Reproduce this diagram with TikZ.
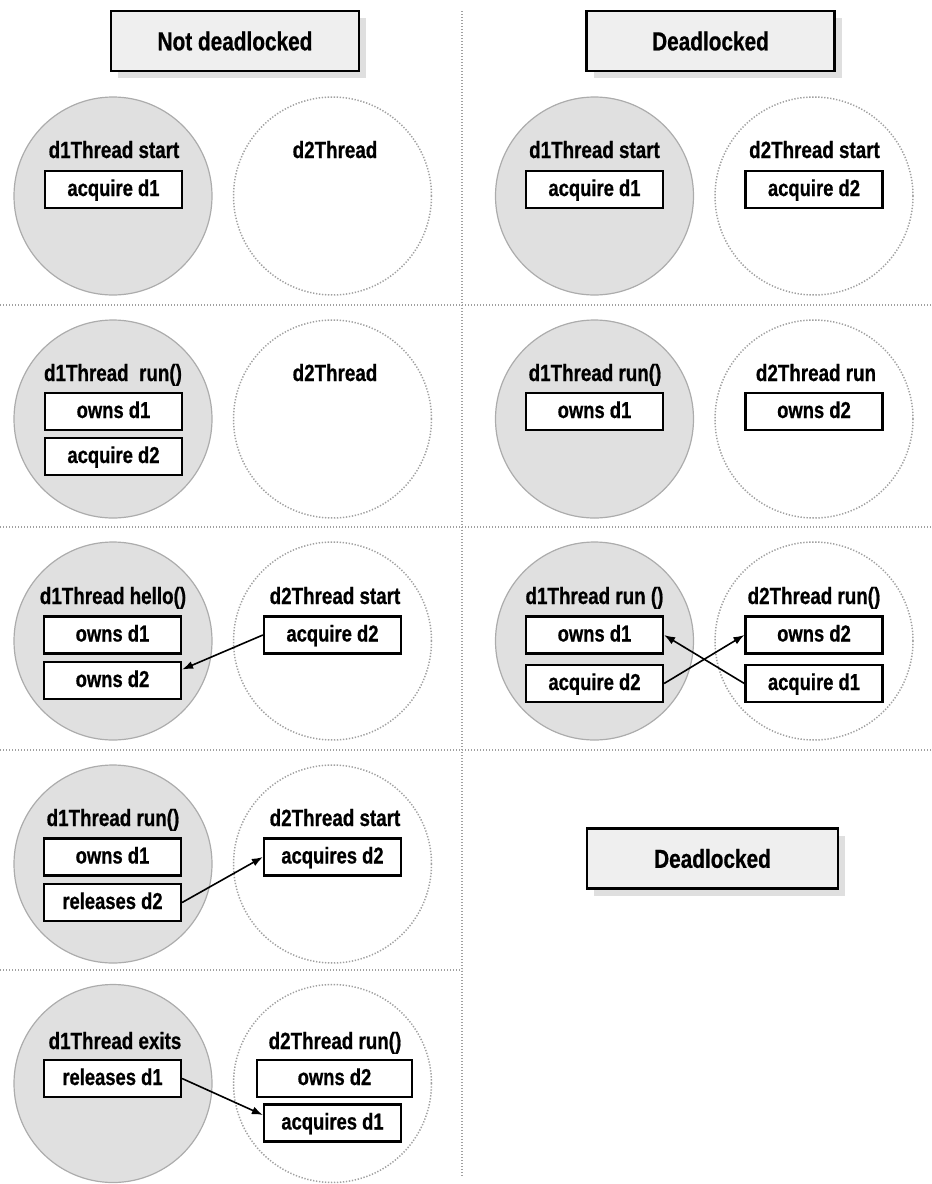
\documentclass[tikz,border=0pt]{standalone}
\usepackage{fontspec}
\setmainfont{Liberation Sans}[FakeStretch=0.8, BoldFeatures={FakeBold=0.7}]
\usetikzlibrary{shadows,arrows.meta}
\definecolor{busy}{RGB}{224,224,224}
\definecolor{rim}{RGB}{172,172,172}
\definecolor{dots}{RGB}{160,160,160}
\definecolor{bannerfill}{RGB}{239,239,239}
\tikzstyle{thread}=[circle, minimum size=198pt, inner sep=0pt, fill=busy, draw=rim, line width=1.2pt]
\tikzstyle{waiting}=[circle, minimum size=198pt, inner sep=0pt, draw=dots, line width=1.5pt, dash pattern=on 1.3pt off 1.7pt]
\tikzstyle{caption}=[anchor=base, inner sep=0pt, font=\bfseries\fontsize{23.5}{26}\selectfont]
\tikzstyle{lock}=[draw, fill=white, line width=2.2pt, minimum width=137pt, minimum height=37pt, inner sep=0pt, text height=17pt, text depth=4pt, font=\bfseries\fontsize{23}{26}\selectfont]
\tikzstyle{headline}=[draw, fill=bannerfill, line width=2.2pt, minimum width=248pt, minimum height=60pt, inner sep=0pt, font=\bfseries\fontsize{26}{29}\selectfont, drop shadow={shadow xshift=7pt, shadow yshift=-7pt, fill=black!25}]
\tikzstyle{divider}=[draw=dots, line width=1.5pt, dash pattern=on 1.3pt off 1.7pt]
\tikzstyle{flow}=[-{Latex[length=11pt,width=8pt]}, line width=1.6pt]

\begin{document}
\begin{tikzpicture}[x=1pt,y=-1pt]
  \useasboundingbox (0,0) rectangle (932,1184);

  %% Grid lines
  \draw[divider] (462,11) -- (462,1177);
  \draw[divider] (0,305) -- (932,305);
  \draw[divider] (0,527) -- (932,527);
  \draw[divider] (0,750) -- (932,750);
  \draw[divider] (0,970) -- (462,970);

  %% Heads
  \draw (235,41) node[headline] (H1) {Not deadlocked};
  \draw (710.5,41) node[headline] (H2) {Deadlocked};
  \draw (712.5,858.5) node[headline,minimum width=251pt] (H3) {Deadlocked};

  %% Not deadlocked
  \draw (113,196) node[thread] (T1) {};
  \draw (332.5,196) node[waiting] (W1) {};
  \draw (114,158) node[caption] (C1a) {d1Thread start};
  \draw (335,158) node[caption] (C1b) {d2Thread};
  \draw (113.5,189.5) node[lock] (L1a) {acquire d1};

  \draw (113,419) node[thread] (T2) {};
  \draw (332.5,419) node[waiting] (W2) {};
  \draw (113,381) node[caption] (C2a) {d1Thread~ run()};
  \draw (335,381) node[caption] (C2b) {d2Thread};
  \draw (113.5,411.5) node[lock] (L2a) {owns d1};
  \draw (113.5,456.5) node[lock] (L2b) {acquire d2};

  \draw (113,641) node[thread] (T3) {};
  \draw (332.5,641) node[waiting] (W3) {};
  \draw (113,604) node[caption] (C3a) {d1Thread hello()};
  \draw (335,604) node[caption] (C3b) {d2Thread start};
  \draw (112.5,635) node[lock] (L3a) {owns d1};
  \draw (112.5,680.5) node[lock] (L3b) {owns d2};
  \draw (332.5,635) node[lock] (L3c) {acquire d2};

  \draw (113,864) node[thread] (T4) {};
  \draw (332.5,864) node[waiting] (W4) {};
  \draw (113,826) node[caption] (C4a) {d1Thread run()};
  \draw (335,826) node[caption] (C4b) {d2Thread start};
  \draw (112.5,857) node[lock] (L4a) {owns d1};
  \draw (112.5,902.5) node[lock] (L4b) {releases d2};
  \draw (332.5,857) node[lock] (L4c) {acquires d2};

  \draw (113,1083.5) node[thread] (T5) {};
  \draw (332.5,1083.5) node[waiting] (W5) {};
  \draw (115,1049) node[caption] (C5a) {d1Thread exits};
  \draw (335,1049) node[caption] (C5b) {d2Thread run()};
  \draw (112.5,1078.5) node[lock] (L5a) {releases d1};
  \draw (334.5,1078.5) node[lock,minimum width=155pt] (L5b) {owns d2};
  \draw (332.5,1123) node[lock] (L5c) {acquires d1};

  %% Deadlocked
  \draw (594.5,196) node[thread] (T6) {};
  \draw (814,196) node[waiting] (W6) {};
  \draw (594.5,158) node[caption] (C6a) {d1Thread start};
  \draw (814.5,158) node[caption] (C6b) {d2Thread start};
  \draw (594.5,189.5) node[lock] (L6a) {acquire d1};
  \draw (814,189.5) node[lock] (L6b) {acquire d2};

  \draw (594.5,419) node[thread] (T7) {};
  \draw (814,419) node[waiting] (W7) {};
  \draw (595,381) node[caption] (C7a) {d1Thread run()};
  \draw (816,381) node[caption] (C7b) {d2Thread run};
  \draw (594.5,411.5) node[lock] (L7a) {owns d1};
  \draw (814,411.5) node[lock] (L7b) {owns d2};

  \draw (594.5,641) node[thread] (T8) {};
  \draw (814,641) node[waiting] (W8) {};
  \draw (594.5,604) node[caption] (C8a) {d1Thread run ()};
  \draw (814,604) node[caption] (C8b) {d2Thread run()};
  \draw (594.5,635) node[lock] (L8a) {owns d1};
  \draw (594.5,683.5) node[lock] (L8b) {acquire d2};
  \draw (814,635) node[lock] (L8c) {owns d2};
  \draw (814,683.5) node[lock] (L8d) {acquire d1};

  %% Hand-overs
  \draw[flow] (L3c.west) -- ([yshift=11pt]L3b.east);
  \draw[flow] (L4b.east) -- (L4c.west);
  \draw[flow] (L5a.east) -- ([yshift=8pt]L5c.west);
  \draw[flow] (L8b.east) -- (L8c.west);
  \draw[flow] (L8d.west) -- (L8a.east);
\end{tikzpicture}
\end{document}
